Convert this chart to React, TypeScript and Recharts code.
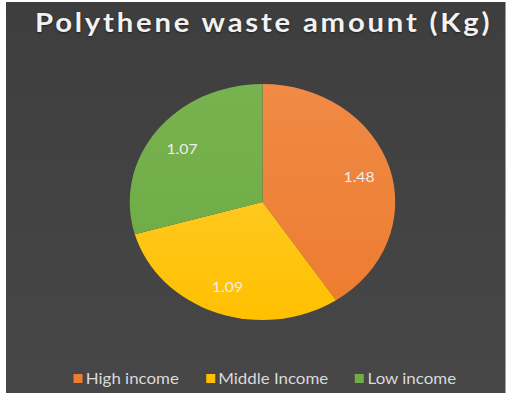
import { PieChart, Pie, Cell } from 'recharts'

const categories = ['High income', 'Middle Income', 'Low income']
const amounts = [1.48, 1.09, 1.07]
const colors = ['#ED7D31', '#FFC000', '#70AD47']
const lightColors = ['#F08A45', '#FFC81F', '#78B24F']

const data = categories.map((name, i) => ({ name, value: amounts[i] }))

const RAD = Math.PI / 180

function renderLabel(props: any) {
  const { cx, cy, midAngle, outerRadius, value } = props
  const r = outerRadius * 0.76
  const x = cx + r * Math.cos(-midAngle * RAD)
  const y = cy + r * Math.sin(-midAngle * RAD)
  return (
    <text
      x={x}
      y={y}
      fill="#eeeeee"
      fontSize={14}
      fontFamily="Lato, sans-serif"
      textAnchor="middle"
      dominantBaseline="central"
    >
      {value.toFixed(2)}
    </text>
  )
}

export default function App() {
  return (
    <div
      style={{
        position: 'fixed',
        left: 0,
        top: 0,
        width: 508,
        height: 393,
        background: '#ffffff',
      }}
    >
      <div
        style={{
          position: 'absolute',
          left: 6,
          top: 2,
          width: 444,
          height: 391,
          background: 'linear-gradient(#3e3e3e, #474747)',
          transform: 'scaleX(1.125)',
          transformOrigin: 'left top',
        }}
      >
        <div
          style={{
            position: 'absolute',
            top: 4,
            left: 0,
            width: 444,
            paddingLeft: 14,
            boxSizing: 'border-box',
            textAlign: 'center',
            color: '#f2f2f2',
            fontFamily: 'Lato, sans-serif',
            fontWeight: 700,
            fontSize: 26,
            letterSpacing: 2.5,
            textShadow: '0 1px 2px rgba(0,0,0,0.5)',
            whiteSpace: 'nowrap',
          }}
        >
          Polythene waste amount (Kg)
        </div>

        <PieChart width={444} height={391} margin={{ top: 0, right: 0, bottom: 0, left: 0 }}>
          <defs>
            {colors.map((c, i) => (
              <linearGradient key={c} id={`slice${i}`} x1="0" y1="0" x2="0" y2="1">
                <stop offset="0%" stopColor={lightColors[i]} />
                <stop offset="100%" stopColor={c} />
              </linearGradient>
            ))}
          </defs>
          <Pie
            data={data}
            dataKey="value"
            nameKey="name"
            cx={228}
            cy={200}
            outerRadius={118}
            startAngle={90}
            endAngle={-270}
            stroke="none"
            label={renderLabel}
            labelLine={false}
            isAnimationActive={false}
          >
            {data.map((d, i) => (
              <Cell key={d.name} fill={`url(#slice${i})`} />
            ))}
          </Pie>
        </PieChart>

        <div
          style={{
            position: 'absolute',
            top: 367,
            left: 0,
            width: 444,
            display: 'flex',
            justifyContent: 'center',
            paddingLeft: 16,
            boxSizing: 'border-box',
          }}
        >
          {categories.map((name, i) => (
            <div
              key={name}
              style={{
                display: 'flex',
                alignItems: 'center',
                marginRight: i < categories.length - 1 ? 24 : 0,
              }}
            >
              <span
                style={{
                  width: 8,
                  height: 9,
                  background: colors[i],
                  marginRight: 3,
                  display: 'inline-block',
                }}
              />
              <span style={{ color: '#d9d9d9', fontSize: 15, fontFamily: 'Lato, sans-serif' }}>
                {name}
              </span>
            </div>
          ))}
        </div>
      </div>
    </div>
  )
}
